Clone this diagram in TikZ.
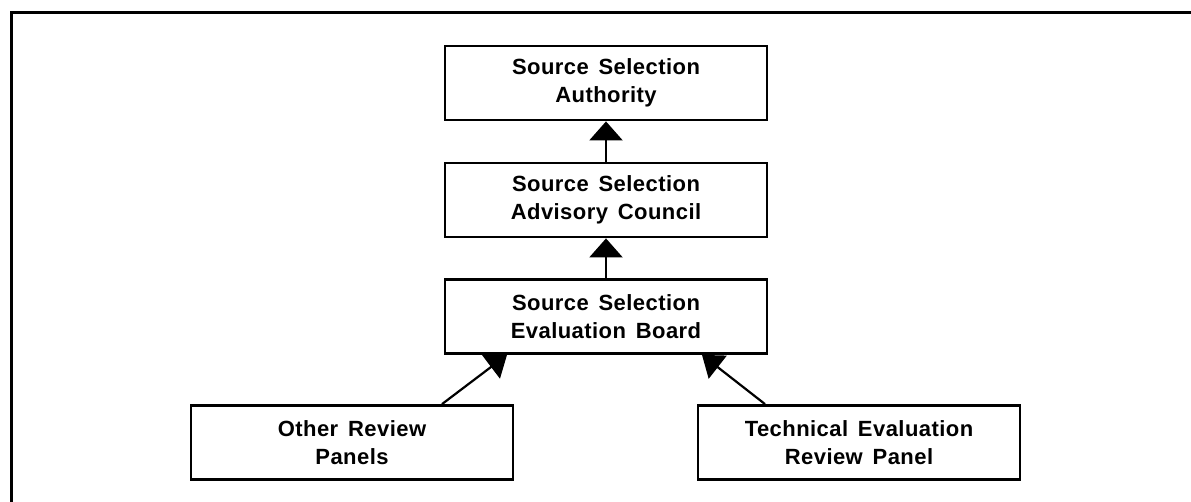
\documentclass[tikz,border=0pt]{standalone}
\usepackage{fontspec}
\setmainfont{Liberation Sans}[LetterSpace=2,WordSpace=1.5]
\usetikzlibrary{arrows.meta}
\begin{document}
\begin{tikzpicture}[x=1pt,y=-1pt,
  orgbox/.style={draw, line width=2.8pt, minimum width=322pt, minimum height=74pt,
    align=center, inner sep=0pt, font=\fontsize{22}{28}\selectfont\bfseries},
  arr/.style={line width=2.2pt, -{Triangle[length=19pt,width=33pt]}},
  darr/.style={line width=2.2pt, -{Triangle[length=20pt,width=29pt]}}]
\useasboundingbox (0,0) rectangle (1191,502);
\draw[line width=3pt] (11,502) -- (11,13) -- (1191,13);
\node[orgbox] (ssa) at (606,83) {Source Selection\\Authority};
\node[orgbox] (sac) at (606,200) {Source Selection\\Advisory Council};
\node[orgbox] (seb) at (606,316.5) {Source Selection\\Evaluation Board};
\node[orgbox] (orp) at (352,442.5) {Other Review\\Panels};
\node[orgbox] (terp) at (859,442.5) {Technical Evaluation\\Review Panel};
\draw[arr] (sac) -- (ssa);
\draw[arr] (seb) -- (sac);
\draw[darr] ([xshift=90pt]orp.north) -- ([xshift=-99pt]seb.south);
\draw[darr] ([xshift=-94pt]terp.north) -- ([xshift=96pt]seb.south);
\end{tikzpicture}
\end{document}
